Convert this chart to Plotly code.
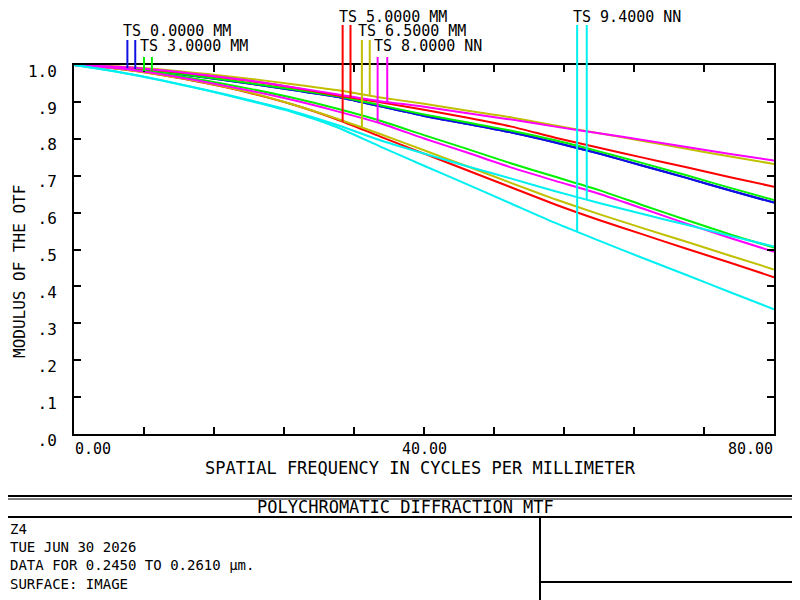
import numpy as np
import plotly.graph_objects as go

# ==========================================================================
# Data (cycles/mm vs modulus)
# ==========================================================================
freq = [0, 5, 10, 15, 20, 25, 30, 35, 40, 45, 50, 55, 60, 65, 70, 75, 80]

# field 0.0 mm: tangential and sagittal coincide
f00_tan = [1.000, 0.994, 0.982, 0.966, 0.950, 0.932, 0.914, 0.888, 0.862, 0.840, 0.817, 0.790, 0.760, 0.727, 0.694, 0.660, 0.627]
f00_sag = [1.000, 0.994, 0.982, 0.966, 0.950, 0.932, 0.914, 0.888, 0.862, 0.840, 0.817, 0.790, 0.760, 0.727, 0.694, 0.660, 0.627]
# field 3.0 mm
f30_tan = [1.000, 0.992, 0.977, 0.958, 0.936, 0.911, 0.882, 0.849, 0.810, 0.772, 0.733, 0.697, 0.661, 0.620, 0.580, 0.541, 0.505]
f30_sag = [1.000, 0.994, 0.982, 0.967, 0.951, 0.934, 0.916, 0.891, 0.866, 0.844, 0.822, 0.796, 0.766, 0.734, 0.701, 0.667, 0.634]
# field 5.0 mm
f50_tan = [1.000, 0.990, 0.973, 0.951, 0.925, 0.893, 0.853, 0.806, 0.760, 0.714, 0.668, 0.622, 0.580, 0.541, 0.502, 0.464, 0.425]
f50_sag = [1.000, 0.995, 0.985, 0.972, 0.957, 0.939, 0.918, 0.899, 0.879, 0.857, 0.833, 0.803, 0.776, 0.749, 0.723, 0.696, 0.670]
# field 6.5 mm
f65_tan = [1.000, 0.990, 0.973, 0.952, 0.926, 0.893, 0.855, 0.813, 0.769, 0.725, 0.680, 0.636, 0.596, 0.558, 0.521, 0.483, 0.446]
f65_sag = [1.000, 0.996, 0.988, 0.976, 0.963, 0.948, 0.932, 0.912, 0.895, 0.876, 0.858, 0.836, 0.815, 0.794, 0.773, 0.752, 0.732]
# field 8.0 mm
f80_tan = [1.000, 0.991, 0.975, 0.954, 0.931, 0.905, 0.875, 0.842, 0.801, 0.762, 0.722, 0.686, 0.651, 0.611, 0.570, 0.531, 0.494]
f80_sag = [1.000, 0.995, 0.986, 0.973, 0.958, 0.940, 0.921, 0.902, 0.887, 0.869, 0.852, 0.833, 0.815, 0.797, 0.778, 0.759, 0.741]
# field 9.4 mm
f94_tan = [1.000, 0.981, 0.958, 0.932, 0.903, 0.872, 0.832, 0.779, 0.727, 0.676, 0.624, 0.572, 0.524, 0.477, 0.431, 0.384, 0.338]
f94_sag = [1.000, 0.982, 0.959, 0.933, 0.905, 0.875, 0.838, 0.796, 0.760, 0.725, 0.692, 0.658, 0.626, 0.596, 0.567, 0.537, 0.508]

field_labels = ["TS 0.0000 MM", "TS 3.0000 MM", "TS 5.0000 MM",
                "TS 6.5000 MM", "TS 8.0000 NN", "TS 9.4000 NN"]
field_colors = ["#1010e0", "#00f000", "#ff0000", "#c0c000", "#ff00ff", "#00f0f0"]
# frequency where each field's two legend drop lines sit
legend_x = [(6.1, 7.0), (8.0, 8.9), (30.7, 31.6), (32.9, 33.8), (34.7, 35.8), (57.5, 58.6)]
# row of the label (0 = highest)
legend_row = [1, 2, 0, 1, 2, 0]

y_ticks = [0.0, 0.1, 0.2, 0.3, 0.4, 0.5, 0.6, 0.7, 0.8, 0.9, 1.0]
y_ticktext = [".0", ".1", ".2", ".3", ".4", ".5", ".6", ".7", ".8", ".9", "1.0"]
x_labels = [(0, "0.00"), (40, "40.00"), (80, "80.00")]

info_lines = ["Z4", "TUE JUN 30 2026", "DATA FOR 0.2450 TO 0.2610 µm.", "SURFACE: IMAGE"]

fields = [(f00_tan, f00_sag), (f30_tan, f30_sag), (f50_tan, f50_sag),
          (f65_tan, f65_sag), (f80_tan, f80_sag), (f94_tan, f94_sag)]

FONT = "DejaVu Sans Mono"
# the page body has an 8px margin, so the figure is drawn 8px smaller
BODY = 8
W, H = 800 - BODY, 600 - BODY
# plot box in window pixels
X0, X1, Y0, Y1 = 74, 774, 65, 434
PW, PH = X1 - X0, Y1 - Y0


def px(x):
    return (x - X0) / PW


def py(y):
    return (Y1 - y) / PH


# ==========================================================================
# Figure
# ==========================================================================
fig = go.Figure()
for (tan, sag), color, label in zip(fields, field_colors, field_labels):
    for curve in (tan, sag):
        fig.add_trace(go.Scatter(x=freq, y=curve, mode="lines", name=label,
                                 line=dict(color=color, width=2, shape="spline", smoothing=0.6),
                                 showlegend=False, hoverinfo="skip"))

shapes = []
annotations = []
row_label_y = [py(17), py(31), py(46)]
row_line_top = [py(25), py(40), py(57)]
for (tan, sag), color, label, xs, row in zip(fields, field_colors, field_labels, legend_x, legend_row):
    for xv, curve in zip(xs, (tan, sag)):
        shapes.append(dict(type="line", xref="x", yref="paper", x0=xv, x1=xv,
                           y0=float(np.interp(xv, freq, curve)), y1=row_line_top[row],
                           line=dict(color=color, width=2)))
    annotations.append(dict(x=xs[0], y=row_label_y[row], xref="x", yref="paper",
                            text=label, showarrow=False, xanchor="left", yanchor="middle",
                            xshift=-5, borderpad=0, font=dict(family=FONT, size=15, color="black")))

for xv, txt in x_labels:
    anchor = "left" if xv == 0 else ("right" if xv == 80 else "center")
    annotations.append(dict(x=xv, y=py(449), xref="x", yref="paper", text=txt,
                            showarrow=False, xanchor=anchor, yanchor="middle", borderpad=0,
                            font=dict(family=FONT, size=15, color="black")))

annotations.append(dict(x=px(420), y=py(468), xref="paper", yref="paper",
                        text="SPATIAL FREQUENCY IN CYCLES PER MILLIMETER", showarrow=False,
                        xanchor="center", yanchor="middle", borderpad=0,
                        font=dict(family=FONT, size=17, color="black")))
annotations.append(dict(x=px(19), y=py(272), xref="paper", yref="paper",
                        text="MODULUS OF THE OTF", showarrow=False, textangle=-90,
                        xanchor="center", yanchor="middle", borderpad=0,
                        font=dict(family=FONT, size=16, color="black")))

# bottom info block
annotations.append(dict(x=px(405), y=py(507), xref="paper", yref="paper",
                        text="POLYCHROMATIC DIFFRACTION MTF", showarrow=False,
                        xanchor="center", yanchor="middle", borderpad=0,
                        font=dict(family=FONT, size=17, color="black")))
annotations.append(dict(x=px(9), y=py(520), xref="paper", yref="paper",
                        text="<br>".join(info_lines), showarrow=False, align="left",
                        xanchor="left", yanchor="top", borderpad=0,
                        font=dict(family=FONT, size=14, color="black")))

box = dict(color="black", width=2)
shapes += [
    dict(type="line", xref="paper", yref="paper", x0=px(0), x1=px(800), y0=py(496), y1=py(496), line=box),
    dict(type="line", xref="paper", yref="paper", x0=px(0), x1=px(800), y0=py(499), y1=py(499), line=dict(color="black", width=1)),
    dict(type="line", xref="paper", yref="paper", x0=px(0), x1=px(800), y0=py(517), y1=py(517), line=box),
    dict(type="line", xref="paper", yref="paper", x0=px(540), x1=px(540), y0=py(517), y1=py(600), line=box),
    dict(type="line", xref="paper", yref="paper", x0=px(540), x1=px(800), y0=py(582), y1=py(582), line=box),
]

fig.update_layout(
    width=W, height=H,
    margin=dict(l=X0 - BODY, r=W - (X1 - BODY), t=Y0 - BODY, b=H - (Y1 - BODY)),
    plot_bgcolor="white", paper_bgcolor="white",
    font=dict(family=FONT, size=16, color="black"),
    shapes=shapes, annotations=annotations,
    showlegend=False,
)
fig.update_xaxes(range=[0, 80], tickmode="linear", tick0=0, dtick=8,
                 ticks="inside", ticklen=7, tickwidth=2, tickcolor="black",
                 showticklabels=False, showline=True, linecolor="black", linewidth=2,
                 mirror="ticks", showgrid=False, zeroline=False)
fig.update_yaxes(range=[0, 1], tickvals=y_ticks, ticktext=y_ticktext,
                 ticks="inside", ticklen=7, tickwidth=2, tickcolor="black",
                 ticklabelstandoff=12, ticklabelshift=6,
                 tickfont=dict(family=FONT, size=16, color="black"),
                 showline=True, linecolor="black", linewidth=2,
                 mirror="ticks", showgrid=False, zeroline=False)

fig.write_html("out.html")
